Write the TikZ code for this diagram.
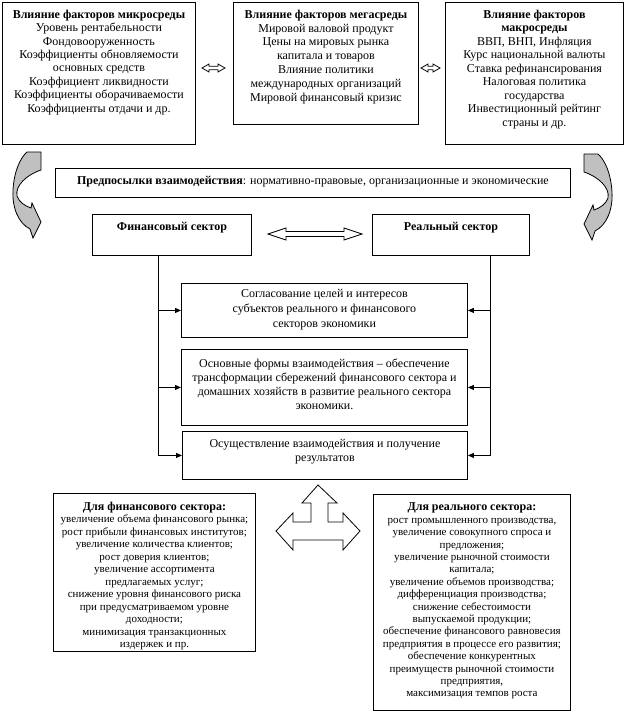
\documentclass[tikz,border=0pt]{standalone}
\usepackage{fontspec}
\setmainfont{Liberation Serif}
\usetikzlibrary{arrows.meta}
\definecolor{arrgray}{RGB}{192,192,192}
\newcommand{\bxt}[6]{\parbox[c][#2pt][t]{#1pt}{\centering\fontsize{#4}{#5}\selectfont\vspace*{#3pt}#6}}
\newcommand{\dblarrow}[6]{%
  \draw[blockarr] (#1,#3) -- ({#1+#4},{#3-#5}) -- ({#1+#4},{#3-#6}) -- ({#2-#4},{#3-#6}) -- ({#2-#4},{#3-#5}) -- (#2,#3)
   -- ({#2-#4},{#3+#5}) -- ({#2-#4},{#3+#6}) -- ({#1+#4},{#3+#6}) -- ({#1+#4},{#3+#5}) -- cycle;}
\begin{document}
\begin{tikzpicture}[x=1pt,y=-1pt,
  bx/.style={draw, line width=0.9pt, inner sep=0pt, anchor=north west},
  conn/.style={line width=0.9pt},
  arr/.style={conn, -{Triangle[length=6pt,width=5pt]}},
  blockarr/.style={line width=0.8pt, fill=white, line join=miter},
  curvarr/.style={line width=0.8pt, fill=arrgray}]
\useasboundingbox (0,0) rectangle (626,712);

% top boxes
\node[bx] (micro) at (2,2) {\bxt{193}{142}{7.5}{12}{13.4}{\textbf{Влияние факторов микросреды}\\
Уровень рентабельности\\
Фондовооруженность\\
Коэффициенты обновляемости\\
основных средств\\
Коэффициент ликвидности\\
Коэффициенты оборачиваемости\\
Коэффициенты отдачи и др.}};
\node[bx] (mega) at (233,2) {\bxt{185}{122}{7.5}{12}{13.8}{\textbf{Влияние факторов мегасреды}\\
Мировой валовой продукт\\
Цены на мировых рынка\\
капитала и товаров\\
Влияние политики\\
международных организаций\\
Мировой финансовый кризис}};
\node[bx] (macro) at (445,2) {\bxt{178}{142}{7.5}{12}{13.5}{\textbf{Влияние факторов}\\
\textbf{макросреды}\\
ВВП, ВНП, Инфляция\\
Курс национальной валюты\\
Ставка рефинансирования\\
Налоговая политика\\
государства\\
Инвестиционный рейтинг\\
страны и др.}};

\dblarrow{202}{225}{68}{7}{4}{1.8}
\dblarrow{421}{440}{68}{7}{4}{1.8}

% prerequisites
\node[bx] (pre) at (55,168) {\bxt{515}{29}{8}{12}{14}{\textbf{Предпосылки взаимодействия}: нормативно-правовые, организационные и экономические}};

% curved arrows
\draw[curvarr] (27,152) -- (41,152) -- (41,170) .. controls (26,175) and (15,186) .. (17,196)
  .. controls (19,202) and (25,206) .. (31,208) -- (32,203) -- (41,222) -- (33,238) -- (30,229)
  .. controls (18,223) and (12,207) .. (13,190) .. controls (14,172) and (20,158) .. (27,152) -- cycle;
\begin{scope}[shift={(625,2)}, xscale=-1]
\draw[curvarr] (27,152) -- (41,152) -- (41,170) .. controls (26,175) and (15,186) .. (17,196)
  .. controls (19,202) and (25,206) .. (31,208) -- (32,203) -- (41,222) -- (33,238) -- (30,229)
  .. controls (18,223) and (12,207) .. (13,190) .. controls (14,172) and (20,158) .. (27,152) -- cycle;
\end{scope}

% sectors
\node[bx] (fin) at (92,214) {\bxt{159}{41}{7.5}{12}{14}{\textbf{Финансовый сектор}}};
\node[bx] (real) at (372,214) {\bxt{157}{41}{7.5}{12}{14}{\textbf{Реальный сектор}}};
\dblarrow{268}{362}{234}{18}{6}{2.5}

% middle boxes
\node[bx] (A) at (181,283) {\bxt{286}{54}{5.5}{12}{15}{Согласование целей и интересов\\
субъектов реального и финансового\\
секторов экономики}};
\node[bx] (B) at (181,349) {\bxt{286}{76}{9.5}{12}{14}{Основные формы взаимодействия – обеспечение\\
трансформации сбережений финансового сектора и\\
домашних хозяйств в развитие реального сектора\\
экономики.}};
\node[bx] (C) at (182,431) {\bxt{285}{48}{7.5}{12}{14.5}{Осуществление взаимодействия и получение\\
результатов}};

\coordinate (lx) at (158,0);
\coordinate (rx) at (490,0);
\draw[arr] (fin.south -| lx) |- (C.west);
\draw[arr] (A.west -| lx) -- (A.west);
\draw[arr] (B.west -| lx) -- (B.west);
\draw[arr] (real.south -| rx) |- (C.east);
\draw[arr] (A.east -| rx) -- (A.east);
\draw[arr] (B.east -| rx) -- (B.east);

% three-way arrow
\draw[blockarr] (318,485) -- (337,503) -- (328,503) -- (328,522) -- (343,522) -- (343,513) -- (360,531)
  -- (343,550) -- (343,540) -- (293,540) -- (293,550) -- (276,531) -- (293,513) -- (293,522)
  -- (311,522) -- (311,503) -- (302,503) -- cycle;

% bottom boxes
\node[bx] (resfin) at (53,493) {\bxt{202}{158}{8.5}{11}{12.5}{{\fontsize{12}{12.5}\selectfont\textbf{Для финансового сектора:}}\\
увеличение объема финансового рынка;\\
рост прибыли финансовых институтов;\\
увеличение количества клиентов;\\
рост доверия клиентов;\\
увеличение ассортимента\\
предлагаемых услуг;\\
снижение уровня финансового риска\\
при предусматриваемом уровне\\
доходности;\\
минимизация транзакционных\\
издержек и пр.}};
\node[bx] (resreal) at (373,494) {\bxt{197}{216}{8.5}{11}{12.4}{{\fontsize{12}{12.4}\selectfont\textbf{Для реального сектора:}}\\
рост промышленного производства,\\
увеличение совокупного спроса и\\
предложения;\\
увеличение рыночной стоимости\\
капитала;\\
увеличение объемов производства;\\
дифференциация производства;\\
снижение себестоимости\\
выпускаемой продукции;\\
обеспечение финансового равновесия\\
предприятия в процессе его развития;\\
обеспечение конкурентных\\
преимуществ рыночной стоимости\\
предприятия,\\
максимизация темпов роста}};
\end{tikzpicture}
\end{document}
